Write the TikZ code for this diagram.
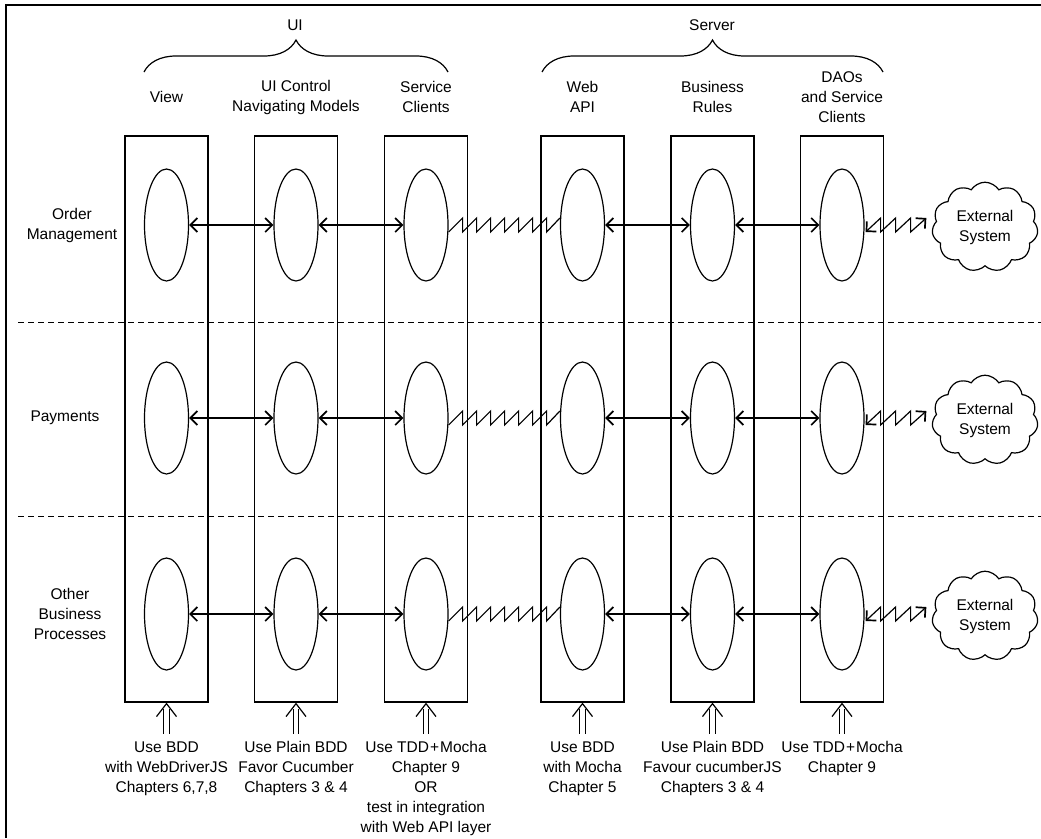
\documentclass[tikz,border=0pt]{standalone}
\usepackage{fontspec}
\setmainfont{Liberation Sans}
\usetikzlibrary{arrows.meta,shapes.geometric,shapes.symbols,decorations.pathreplacing,calc}
\begin{document}
\begin{tikzpicture}[x=1pt,y=-1pt, line width=1.2pt,
  every node/.style={font=\fontsize{15.5}{20}\selectfont, align=center, inner sep=0pt},
  colbox/.style={draw, minimum width=83pt, minimum height=566pt},
  ell/.style={draw, ellipse, minimum width=44pt, minimum height=112pt},
  tipv/.tip={Straight Barb[length=7pt,width=14pt,line width=1.7pt]},
  harr/.style={tipv-tipv},
  extcloud/.style={draw, cloud, cloud puffs=11, cloud puff arc=115, minimum width=106pt, minimum height=82pt},
  lab/.style={anchor=north},
  dashline/.style={line width=1pt, dash pattern=on 6pt off 4pt},
  bracestyle/.style={decorate, decoration={brace, amplitude=32pt}}
]
\useasboundingbox (0,0) rectangle (1041,838);
\draw[line width=1.4pt] (6,838) -- (6,5) -- (1041,5);

% dashed row separators
\draw[dashline] (18,322) -- (1041,322);
\draw[dashline] (18,516) -- (1041,516);

% columns
\foreach \n/\x in {v/166.5,u/296,s/426,w/582.5,b/712.5,d/842} {
  \node[colbox] (\n) at (\x,419) {};
  \foreach \r/\y in {1/225,2/418,3/614} \node[ell] (\n\r) at (\x,\y) {};
  \draw ($(\n.south)+(-2.8,31)$) -- ($(\n.south)+(-2.8,6)$);
  \draw ($(\n.south)+(2.8,31)$) -- ($(\n.south)+(2.8,6)$);
  \draw ($(\n.south)+(-10,14)$) -- ($(\n.south)+(0,1)$) -- ($(\n.south)+(10,14)$);
}

% connectors per row
\foreach \r/\y in {1/227,2/420,3/616} {
  \draw[harr] (v\r.east) -- (u\r.west);
  \draw[harr] (u\r.east) -- (s\r.west);
  \draw[harr] (w\r.east) -- (b\r.west);
  \draw[harr] (b\r.east) -- (d\r.west);
  \draw ($(s\r.east)+(0,7)$) \foreach \k in {1,...,7}{ -- ++(14,-14) -- ++(0,14)} -- ($(w\r.west)+(0,-7)$);
  \node[extcloud] (x\r) at (985,\y) {External\\System};
  \draw[harr] ($(d\r.east)+(1,7)$) \foreach \k in {1,2,3}{ -- ++(15,-14) -- ++(0,14)} -- ($(x\r.west)+(-6,-9)$);
}

% headers
\node at (295,25) {UI};
\node at (712,25) {Server};
\draw[bracestyle] (144,72) -- (448,72);
\draw[bracestyle] (542,72) -- (883,72);
\node at (166.5,97) {View};
\node at (296,97) {UI Control\\Navigating Models};
\node at (426,97) {Service\\Clients};
\node at (582.5,97) {Web\\API};
\node at (712.5,97) {Business\\Rules};
\node at (842,97) {DAOs\\and Service\\Clients};

% row labels
\node at (72,225) {Order\\Management};
\node at (65,418) {Payments};
\node at (70,614) {Other\\Business\\Processes};

% bottom notes
\node[lab] at (166.5,741) {Use BDD\\with WebDriverJS\\Chapters 6,7,8};
\node[lab] at (296,741) {Use Plain BDD\\Favor Cucumber\\Chapters 3 \& 4};
\node[lab] at (426,741) {Use TDD{\kern1pt}+{\kern1pt}Mocha\\Chapter 9\\OR\\test in integration\\with Web API layer};
\node[lab] at (582.5,741) {Use BDD\\with Mocha\\Chapter 5};
\node[lab] at (712.5,741) {Use Plain BDD\\Favour cucumberJS\\Chapters 3 \& 4};
\node[lab] at (842,741) {Use TDD{\kern1pt}+{\kern1pt}Mocha\\Chapter 9};
\end{tikzpicture}
\end{document}
